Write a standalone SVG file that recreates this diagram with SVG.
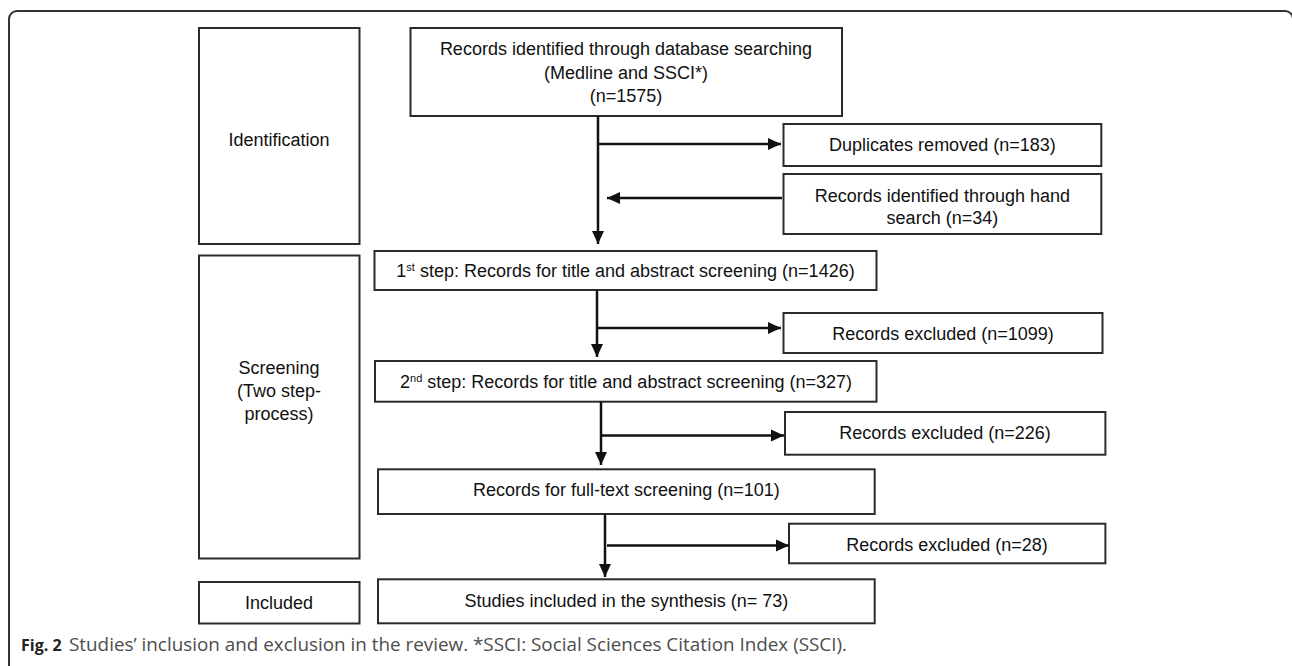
<svg xmlns="http://www.w3.org/2000/svg" width="1292" height="666" viewBox="0 0 1292 666">
<style>
.box{fill:#fff;stroke:#2b2b2b;stroke-width:2}
.t{font-family:"Liberation Sans",Arial,sans-serif;font-size:18px;fill:#111;text-anchor:middle}
.sup{font-size:11px}
.c{fill:none;stroke:#111;stroke-width:2.5}
.frame{fill:none;stroke:#333;stroke-width:2}
.cap{font-family:"Open Sans","Liberation Sans",sans-serif;font-size:18px;fill:#4d4d4d}
.capb{font-family:"Open Sans","Liberation Sans",sans-serif;font-size:16px;font-weight:bold;fill:#222}
</style>
<defs>
<marker id="ah" markerUnits="userSpaceOnUse" markerWidth="14" markerHeight="14" refX="13" refY="7" orient="auto">
<path d="M0,1 L13,7 L0,13 Z" fill="#111"/>
</marker>
</defs>
<rect width="1292" height="666" fill="#fff"/>
<path class="frame" d="M9,666 V19 A8,8 0 0 1 17,11 H1285 A8,8 0 0 1 1293,19 V666"/>

<g id="stage-identification">
<rect class="box" x="199" y="28" width="160.5" height="216"/>
<text class="t" x="279" y="146">Identification</text>
</g>
<g id="stage-screening">
<rect class="box" x="199" y="255.5" width="160.5" height="303"/>
<text class="t" x="279" y="374">Screening</text>
<text class="t" x="279" y="397">(Two step-</text>
<text class="t" x="279" y="420">process)</text>
</g>
<g id="stage-included">
<rect class="box" x="199" y="582" width="160.5" height="41.5"/>
<text class="t" x="279" y="608.5">Included</text>
</g>

<g id="db-search">
<rect class="box" x="410.5" y="28" width="431.5" height="88"/>
<text class="t" x="626" y="55">Records identified through database searching</text>
<text class="t" x="626" y="78.5">(Medline and SSCI*)</text>
<text class="t" x="626" y="102">(n=1575)</text>
</g>
<g id="duplicates">
<rect class="box" x="783.5" y="124" width="317.8" height="42"/>
<text class="t" x="942.4" y="151">Duplicates removed (n=183)</text>
</g>
<g id="hand-search">
<rect class="box" x="783.5" y="174" width="317.8" height="60"/>
<text class="t" x="942.4" y="201.5">Records identified through hand</text>
<text class="t" x="942.4" y="224">search (n=34)</text>
</g>
<g id="step1">
<rect class="box" x="374.5" y="251" width="502" height="39"/>
<text class="t" x="625.5" y="277">1<tspan class="sup" dy="-6">st</tspan><tspan dy="6"> step: Records for title and abstract screening (n=1426)</tspan></text>
</g>
<g id="excluded-1099">
<rect class="box" x="783.5" y="313" width="319" height="40"/>
<text class="t" x="943" y="339.5">Records excluded (n=1099)</text>
</g>
<g id="step2">
<rect class="box" x="375" y="361" width="501.5" height="40.7"/>
<text class="t" x="626" y="388">2<tspan class="sup" dy="-6">nd</tspan><tspan dy="6"> step: Records for title and abstract screening (n=327)</tspan></text>
</g>
<g id="excluded-226">
<rect class="box" x="785" y="412" width="320.4" height="42.7"/>
<text class="t" x="945" y="439">Records excluded (n=226)</text>
</g>
<g id="fulltext">
<rect class="box" x="378" y="469.3" width="496.7" height="44.7"/>
<text class="t" x="626.4" y="496">Records for full-text screening (n=101)</text>
</g>
<g id="excluded-28">
<rect class="box" x="789" y="523.7" width="316.4" height="39.6"/>
<text class="t" x="947" y="550.5">Records excluded (n=28)</text>
</g>
<g id="studies">
<rect class="box" x="378" y="579.3" width="496.7" height="44"/>
<text class="t" x="626.4" y="606.5">Studies included in the synthesis (n= 73)</text>
</g>

<g id="connectors">
<path class="c" d="M598,116 V244" marker-end="url(#ah)"/>
<path class="c" d="M598,144 H781" marker-end="url(#ah)"/>
<path class="c" d="M782,198 H607" marker-end="url(#ah)"/>
<path class="c" d="M597,290 V357" marker-end="url(#ah)"/>
<path class="c" d="M597,328 H781" marker-end="url(#ah)"/>
<path class="c" d="M601,401.7 V465" marker-end="url(#ah)"/>
<path class="c" d="M601,435.5 H784" marker-end="url(#ah)"/>
<path class="c" d="M605,514 V577" marker-end="url(#ah)"/>
<path class="c" d="M607,545.5 H789" marker-end="url(#ah)"/>
</g>

<g id="caption">
<text class="capb" x="21" y="651">Fig. 2</text>
<text class="cap" x="69" y="651" textLength="778" lengthAdjust="spacingAndGlyphs">Studies’ inclusion and exclusion in the review. *SSCI: Social Sciences Citation Index (SSCI).</text>
</g>
</svg>
